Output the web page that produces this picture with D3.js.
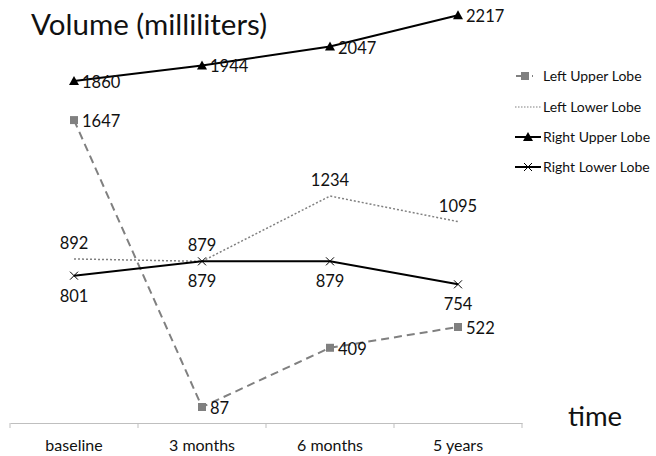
<!DOCTYPE html>
<html lang="en">
<head>
  <meta charset="UTF-8" />
  <title>Lobe volume over time</title>
  <script src="https://cdn.jsdelivr.net/npm/d3@7/dist/d3.min.js"></script>
  <style>
    html, body { margin: 0; padding: 0; background: #fff; }
    svg { display: block; font-family: Lato, "Open Sans", sans-serif; }
  </style>
</head>
<body>
  <div id="chart"></div>
  <script>
    // data
    const categories = ["baseline", "3 months", "6 months", "5 years"];
    const leftUpper  = [1647, 87, 409, 522];
    const leftLower  = [892, 879, 1234, 1095];
    const rightUpper = [1860, 1944, 2047, 2217];
    const rightLower = [801, 879, 879, 754];
    const seriesNames = ["Left Upper Lobe", "Left Lower Lobe", "Right Upper Lobe", "Right Lower Lobe"];

    const width = 656, height = 456;
    const gray = "#808080";

    const series = [
      { name: seriesNames[0], values: leftUpper,  color: gray,   dash: "8,5", sw: 2,   marker: "square",   label: "right" },
      { name: seriesNames[1], values: leftLower,  color: gray,   dash: "2,2", sw: 1.5, marker: null,       label: "above" },
      { name: seriesNames[2], values: rightUpper, color: "#000", dash: null,  sw: 2,   marker: "triangle", label: "right" },
      { name: seriesNames[3], values: rightLower, color: "#000", dash: null,  sw: 2,   marker: "cross",    label: "below" }
    ];

    const svg = d3.select("#chart").append("svg")
      .attr("width", width)
      .attr("height", height);

    const x = d3.scaleBand().domain(categories).range([10, 522]);
    const cx = c => x(c) + x.bandwidth() / 2;
    const y = d3.scaleLinear().domain([0, 2400]).range([423, -18.4]);

    // title + axis name
    svg.append("text")
      .attr("x", 31).attr("y", 35)
      .attr("font-size", 29.5)
      .attr("fill", "#111")
      .text("Volume (milliliters)");

    svg.append("text")
      .attr("x", 568).attr("y", 426)
      .attr("font-size", 27.5)
      .attr("fill", "#111")
      .text("time");

    // x axis
    const axis = svg.append("g")
      .attr("transform", `translate(0,${y(0)})`)
      .call(d3.axisBottom(x).tickSize(0).tickPadding(17));
    axis.select(".domain").attr("stroke", "#bfbfbf");
    axis.selectAll(".tick text").attr("font-size", 16).attr("fill", "#111")
      .attr("font-family", "Lato, sans-serif");
    const bounds = categories.map(c => x(c)).concat([x.range()[1]]);
    axis.selectAll(".bound").data(bounds).enter().append("line")
      .attr("class", "bound")
      .attr("x1", d => d).attr("x2", d => d)
      .attr("y1", 0).attr("y2", 5)
      .attr("stroke", "#bfbfbf");

    function drawMarker(g, type, px, py, color) {
      if (type === "square") {
        g.append("rect").attr("x", px - 4).attr("y", py - 4)
          .attr("width", 8).attr("height", 8).attr("fill", color);
      } else if (type === "triangle") {
        g.append("path")
          .attr("d", `M${px},${py - 5}L${px + 5},${py + 4}L${px - 5},${py + 4}Z`)
          .attr("fill", color);
      } else if (type === "cross") {
        g.append("path")
          .attr("d", `M${px - 4},${py - 4}L${px + 4},${py + 4}M${px - 4},${py + 4}L${px + 4},${py - 4}`)
          .attr("stroke", color).attr("stroke-width", 1);
      }
    }

    const line = d3.line().x(d => cx(d.c)).y(d => y(d.v));

    series.forEach(s => {
      const pts = categories.map((c, i) => ({ c, v: s.values[i] }));
      const g = svg.append("g");
      g.append("path")
        .datum(pts)
        .attr("d", line)
        .attr("fill", "none")
        .attr("stroke", s.color)
        .attr("stroke-width", s.sw)
        .attr("stroke-dasharray", s.dash);
      pts.forEach(p => {
        if (s.marker) drawMarker(g, s.marker, cx(p.c), y(p.v), s.color);
        const t = g.append("text")
          .attr("font-size", 16.5)
          .attr("fill", "#111")
          .text(p.v);
        if (s.label === "right") {
          t.attr("x", cx(p.c) + 8).attr("y", y(p.v) + 7);
        } else if (s.label === "above") {
          t.attr("x", cx(p.c)).attr("y", y(p.v) - 10).attr("text-anchor", "middle");
        } else {
          t.attr("x", cx(p.c)).attr("y", y(p.v) + 26).attr("text-anchor", "middle");
        }
      });
    });

    // legend
    const legendY = [76, 107, 137, 167];
    series.forEach((s, i) => {
      const g = svg.append("g");
      const ly = legendY[i];
      if (s.marker === "square") {
        g.append("line").attr("x1", 516).attr("x2", 533).attr("y1", ly).attr("y2", ly)
          .attr("stroke", s.color).attr("stroke-width", 2).attr("stroke-dasharray", "5,3");
      } else {
        g.append("line").attr("x1", 515).attr("x2", 541).attr("y1", ly).attr("y2", ly)
          .attr("stroke", s.color).attr("stroke-width", s.dash ? 1.2 : 2)
          .attr("stroke-dasharray", s.dash ? "1.5,1.5" : null);
      }
      if (s.marker) drawMarker(g, s.marker, s.marker === "square" ? 525 : 528, ly, s.color);
      g.append("text")
        .attr("x", 543).attr("y", ly + 5)
        .attr("font-size", 14)
        .attr("fill", "#111")
        .text(s.name);
    });
  </script>
</body>
</html>
